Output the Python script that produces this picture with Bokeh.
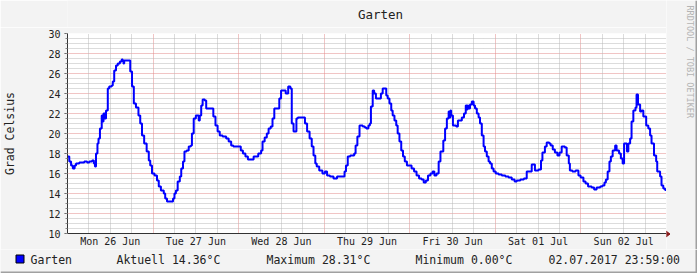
import math
from bokeh.plotting import figure
from bokeh.layouts import column, row
from bokeh.models import Range1d, FixedTicker, Grid
from bokeh.core.properties import value
from bokeh.embed import file_html
from bokeh.resources import INLINE

# ---- data (hours since Mon 26 Jun 2017 00:00, temperature in degC) ----
hours = [0.0, 0.5, 1.0, 1.5, 2.0, 2.4, 3.3, 4.7, 5.5, 6.1, 6.9, 7.4, 7.7, 8.0, 8.4, 8.7, 9.1, 9.6, 9.9, 10.1,
         10.5, 10.8, 11.3, 11.7, 12.4, 12.7, 13.1, 13.6, 14.1, 14.7, 15.2, 15.5, 15.7, 15.9, 17.6, 18.1, 18.6, 19.2, 19.9, 20.4,
         20.9, 21.5, 22.2, 22.8, 23.2, 23.7, 24.4, 25.1, 25.6, 26.2, 27.0, 27.4, 27.9, 29.6, 30.0, 30.4, 30.9, 31.5, 31.9, 32.4,
         32.8, 33.4, 34.0, 34.6, 34.9, 35.4, 36.0, 36.8, 37.1, 37.5, 37.9, 38.5, 38.9, 40.9, 41.5, 42.1, 42.7, 43.5, 44.5, 45.2,
         45.9, 46.5, 48.6, 49.2, 49.9, 50.6, 52.2, 53.5, 54.3, 54.7, 55.3, 55.9, 56.4, 57.0, 57.5, 58.0, 59.4, 59.9, 61.2, 61.9,
         62.5, 62.9, 63.4, 64.2, 64.6, 66.6, 67.2, 67.9, 68.5, 69.0, 69.5, 69.9, 70.6, 71.5, 72.2, 72.8, 73.6, 74.6, 75.6, 77.7,
         78.1, 78.6, 79.3, 80.4, 80.8, 81.3, 81.9, 82.8, 83.4, 83.8, 84.4, 84.8, 85.1, 85.6, 86.0, 86.5, 87.9, 88.4, 89.4, 89.8,
         90.3, 90.8, 91.2, 91.7, 92.2, 92.6, 93.1, 93.6, 94.1, 94.6, 95.2, 96.5, 97.2, 97.9, 98.6, 99.3, 99.9, 100.5, 101.1, 101.8,
         102.4, 102.9, 103.5, 104.1, 104.6, 105.4, 105.9, 106.4, 106.9, 107.2, 107.4, 107.6, 108.1, 109.0, 109.5, 110.6, 111.2, 111.7, 112.0, 112.2,
         112.4, 112.9, 113.4, 113.9, 114.3, 114.8, 115.3, 115.7, 116.2, 116.7, 117.1, 117.6, 118.1, 118.5, 119.0, 119.5, 120.1, 120.9, 121.8, 122.8,
         123.7, 124.6, 125.4, 126.0, 127.0, 128.0, 128.8, 130.2, 131.1, 132.1, 132.8, 133.2, 133.9, 134.4, 135.1, 135.5, 136.1, 136.7, 137.4, 138.0,
         138.6, 139.5, 140.0, 140.6, 140.9, 141.6, 142.5, 143.3, 143.9, 144.7, 145.3, 146.0, 147.0, 147.7, 148.4, 149.4, 150.0, 150.6, 151.0, 151.5,
         152.0, 152.4, 152.9, 153.6, 154.0, 154.7, 155.2, 155.7, 156.1, 156.9, 157.3, 157.8, 158.2, 158.7, 159.3, 159.6, 160.0, 160.6, 161.0, 161.5,
         162.3, 162.9, 163.4, 163.8, 164.5, 165.1, 165.4, 166.2, 166.6, 167.1, 167.6, 167.9]
temps = [17.7, 17.2, 16.8, 16.5, 16.8, 17.0, 17.1, 17.2, 17.1, 17.2, 17.3, 17.0, 16.7, 18.0, 19.0, 19.5, 20.5, 21.8, 21.2, 22.0,
         21.5, 22.3, 24.5, 24.7, 24.8, 25.2, 26.3, 26.8, 27.0, 27.2, 27.4, 27.2, 27.0, 27.3, 26.2, 24.7, 23.0, 22.6, 21.8, 21.0,
         19.8, 19.0, 18.2, 17.3, 16.8, 16.0, 15.8, 15.3, 14.7, 14.3, 14.0, 13.5, 13.2, 13.5, 14.0, 14.3, 15.2, 15.7, 16.5, 17.2,
         18.2, 18.3, 18.7, 18.8, 20.0, 21.5, 21.8, 21.3, 21.8, 22.8, 23.4, 23.3, 22.5, 21.7, 20.8, 20.2, 19.8, 19.7, 19.5, 19.2,
         18.8, 18.7, 18.3, 18.0, 17.7, 17.4, 17.7, 18.0, 18.3, 19.2, 19.6, 20.0, 20.5, 20.7, 21.5, 22.5, 23.5, 24.3, 24.0, 24.7,
         24.5, 21.0, 20.2, 21.5, 21.6, 21.0, 20.2, 19.5, 18.7, 17.8, 17.0, 16.7, 16.3, 16.0, 16.2, 15.8, 15.7, 15.5, 15.7, 16.2,
         16.8, 17.7, 17.8, 18.0, 18.8, 19.7, 20.8, 20.7, 20.6, 20.5, 20.8, 21.0, 22.7, 24.3, 24.0, 23.5, 24.0, 24.5, 23.8, 23.5,
         23.0, 22.3, 21.8, 21.3, 20.8, 20.0, 19.2, 18.3, 17.7, 17.2, 16.8, 16.5, 16.2, 15.8, 15.5, 15.4, 15.1, 15.3, 15.8, 16.0,
         16.2, 15.8, 16.0, 17.2, 18.2, 19.3, 20.5, 21.5, 22.2, 21.6, 22.3, 21.8, 20.8, 20.7, 21.3, 21.6, 22.0, 22.8, 22.4, 22.8,
         22.5, 22.9, 23.2, 22.8, 22.5, 22.0, 21.6, 21.0, 19.8, 18.7, 18.2, 17.7, 17.2, 17.0, 16.5, 16.2, 16.0, 15.9, 15.8, 15.7,
         15.6, 15.4, 15.2, 15.3, 15.4, 15.5, 16.2, 16.9, 16.3, 16.4, 17.3, 18.1, 18.7, 19.1, 19.0, 18.8, 18.4, 18.1, 17.8, 18.1,
         18.7, 18.6, 17.8, 17.0, 16.3, 16.2, 16.3, 15.8, 15.6, 15.2, 15.0, 14.7, 14.6, 14.4, 14.6, 14.7, 14.8, 15.1, 15.4, 16.2,
         17.2, 17.7, 18.3, 18.8, 18.3, 18.0, 17.5, 17.0, 19.0, 18.2, 19.0, 19.5, 21.2, 22.3, 22.6, 23.9, 22.9, 22.2, 22.3, 21.7,
         20.8, 20.5, 19.8, 19.0, 17.8, 17.2, 16.2, 15.7, 14.8, 14.5, 14.36, 14.36]

day_labels = ["Mon 26 Jun", "Tue 27 Jun", "Wed 28 Jun", "Thu 29 Jun", "Fri 30 Jun", "Sat 01 Jul", "Sun 02 Jul"]
y_ticks = [10, 12, 14, 16, 18, 20, 22, 24, 26, 28, 30]
series_name = "Garten"
current_val = 14.36
max_val = 28.31
min_val = 0.00
timestamp = "02.07.2017 23:59:00"

FONT = "DejaVu Sans Mono"
BG = "#f3f3f3"
SHADE_DARK = "#a0a0a0"
TXT = "#222222"
W, H = 697, 273
TOP_H = 27          # strip holding the title
MAIN_W = 666        # main chart width (frame ends at the right edge)
MAIN_H = 222        # main chart height (frame 200 px)
LEG_H = H - TOP_H - MAIN_H
RIGHT_W = W - MAIN_W


def strip(w, h):
    f = figure(width=w, height=h, output_backend="svg", toolbar_location=None, title=None,
               x_range=Range1d(0, w), y_range=Range1d(0, h), x_axis_type=None, y_axis_type=None,
               min_border=0, min_border_left=0, min_border_right=0, min_border_top=0, min_border_bottom=0)
    f.background_fill_color = BG
    f.border_fill_color = BG
    f.outline_line_color = None
    return f


# ---------------- main chart ----------------
p = figure(width=MAIN_W, height=MAIN_H, output_backend="svg", toolbar_location=None, title=None,
           min_border_left=67, min_border_right=0, min_border_top=6, min_border_bottom=16,
           x_range=Range1d(0, 168), y_range=Range1d(10, 30))
p.background_fill_color = "#ffffff"
p.border_fill_color = BG
p.outline_line_color = None

p.xgrid.ticker = FixedTicker(ticks=[24 * i for i in range(1, 7)])
p.xgrid.grid_line_color = "#e28a8a"
p.xgrid.grid_line_dash = "1 1"
p.ygrid.ticker = FixedTicker(ticks=y_ticks[1:])
p.ygrid.grid_line_color = "#e28a8a"
p.ygrid.grid_line_dash = "1 1"
minor_x = [6 * i for i in range(1, 28) if i % 4 != 0]
minor_y = [10 + 0.5 * i for i in range(1, 41) if i % 4 != 0]
p.add_layout(Grid(dimension=0, ticker=FixedTicker(ticks=minor_x), grid_line_color="#b8b8b8", grid_line_dash="1 1"))
p.add_layout(Grid(dimension=1, ticker=FixedTicker(ticks=minor_y), grid_line_color="#b8b8b8", grid_line_dash="1 1"))

xa = p.xaxis[0]
xa.ticker = FixedTicker(ticks=[12 + 24 * i for i in range(len(day_labels))])
xa.major_label_overrides = {12 + 24 * i: lbl for i, lbl in enumerate(day_labels)}
xa.major_tick_line_color = None
xa.minor_tick_line_color = None
xa.major_tick_out = 0
xa.major_tick_in = 0
xa.axis_line_color = "#333333"
xa.major_label_text_font = FONT
xa.major_label_text_font_size = "10px"
xa.major_label_text_color = TXT
xa.major_label_standoff = 2

ya = p.yaxis[0]
ya.ticker = FixedTicker(ticks=y_ticks, minor_ticks=[10 + 0.5 * i for i in range(41)])
ya.axis_line_color = "#333333"
ya.major_tick_out = 3
ya.major_tick_in = 0
ya.minor_tick_out = 2
ya.minor_tick_in = 0
ya.major_tick_line_color = "#555555"
ya.minor_tick_line_color = "#888888"
ya.major_label_text_font = FONT
ya.major_label_text_font_size = "10px"
ya.major_label_text_color = TXT
ya.major_label_standoff = 4
ya.axis_label = "Grad Celsius"
ya.axis_label_text_font = FONT
ya.axis_label_text_font_size = "11.5px"
ya.axis_label_text_font_style = "normal"
ya.axis_label_text_color = TXT
ya.axis_label_standoff = 28

p.step(hours, temps, mode="after", line_color="#0000ff", line_width=2)

# ---------------- title strip ----------------
top = strip(MAIN_W, TOP_H)
top.text(x=[348], y=[TOP_H - 14], text=[series_name], text_font=value(FONT), text_font_size=value("12.5px"),
         text_color=TXT, text_align="center", text_baseline="middle")

# ---------------- right strip (watermark, x-axis arrow, shade) ----------------
rh = TOP_H + MAIN_H
right = strip(RIGHT_W, rh)
right.text(x=[23], y=[rh - 5], text=["RRDTOOL / TOBI OETIKER"], text_font=value(FONT),
           text_font_size=value("8.5px"), text_color="#b4b4b4", text_align="left", text_baseline="middle",
           angle=-math.pi / 2)
ay = rh - 233 - 0.5
right.segment(x0=[0], y0=[ay], x1=[2], y1=[ay], line_color="#333333", line_width=1)
right.patch(x=[-0.5, -0.5, 3.5], y=[ay - 3, ay + 3, ay], fill_color="#8b1a1a", line_color="#8b1a1a")
right.quad(left=[RIGHT_W - 2], right=[RIGHT_W], bottom=[0], top=[rh], fill_color=SHADE_DARK, line_color=None)

# ---------------- legend strip ----------------
leg = strip(W, LEG_H)
ly = LEG_H - 10.5
leg.quad(left=[15.5], right=[23.5], bottom=[LEG_H - 13.5], top=[LEG_H - 5.5],
         fill_color="#0000ff", line_color="#000000", line_width=1)
leg.text(x=[30, 116, 266, 415, 548], y=[ly] * 5,
         text=[series_name, "Aktuell %.2f°C" % current_val, "Maximum %.2f°C" % max_val,
               "Minimum %.2f°C" % min_val, timestamp],
         text_font=value(FONT), text_font_size=value("11.5px"), text_color=TXT,
         text_align="left", text_baseline="middle")
leg.quad(left=[0], right=[W], bottom=[0], top=[2], fill_color=SHADE_DARK, line_color=None)
leg.quad(left=[W - 2], right=[W], bottom=[0], top=[LEG_H], fill_color=SHADE_DARK, line_color=None)

layout = column(row(column(top, p, spacing=0), right, spacing=0), leg, spacing=0)

open("out.html", "w").write(file_html(layout, INLINE))
